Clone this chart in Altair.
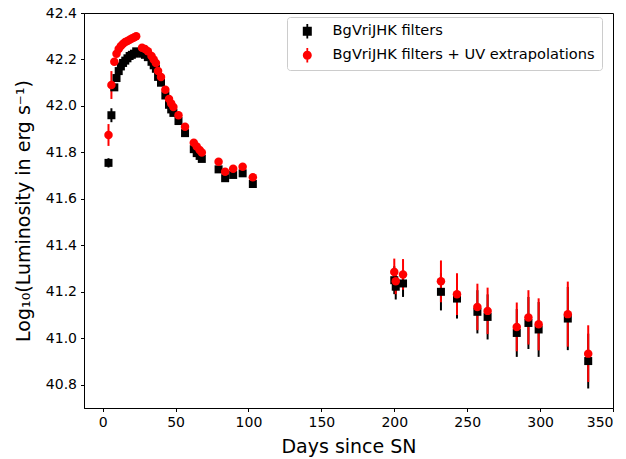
import altair as alt
import pandas as pd

# ---------------- data ----------------
days_early = [4, 6, 8, 9.5, 11, 12.5, 14, 15.5, 17, 18.5, 20, 21.5, 23,
              27, 29, 31, 33.5, 35, 36.5, 38, 40, 43, 45.5, 47, 48.5, 52,
              56.5, 62.5, 64.5, 66.5, 68, 79.5, 84, 89.5, 96, 103]
red_early = [41.875, 42.09, 42.19, 42.225, 42.245, 42.258, 42.268, 42.275,
             42.28, 42.285, 42.29, 42.295, 42.30, 42.25, 42.245, 42.235,
             42.215, 42.20, 42.185, 42.15, 42.125, 42.07, 42.03, 42.01,
             41.995, 41.96, 41.91, 41.842, 41.825, 41.81, 41.80, 41.76,
             41.717, 41.73, 41.738, 41.693]
black_early = [41.755, 41.96, 42.08, 42.12, 42.15, 42.17, 42.185, 42.195,
               42.205, 42.215, 42.22, 42.225, 42.235, 42.225, 42.22, 42.21,
               42.19, 42.175, 42.16, 42.125, 42.10, 42.045, 42.005, 41.985,
               41.97, 41.935, 41.883, 41.814, 41.797, 41.785, 41.772, 41.727,
               41.689, 41.703, 41.71, 41.664]
red_err_early = [0.047, 0.06] + [0.01] * 34
black_err_early = [0.02, 0.03] + [0.01] * 34

days_late = [200, 201, 206, 232, 243, 257, 264, 284, 292, 299, 319, 333]
red_late = [41.285, 41.245, 41.275, 41.245, 41.19, 41.135, 41.118, 41.049,
            41.09, 41.06, 41.104, 40.934]
red_err_late = [0.058, 0.055, 0.066, 0.09, 0.09, 0.10, 0.10, 0.105, 0.117,
                0.112, 0.14, 0.122]
black_late = [41.25, 41.222, 41.236, 41.2, 41.171, 41.114, 41.092, 41.023,
              41.066, 41.038, 41.085, 40.902]
black_err_late = [0.06, 0.055, 0.058, 0.08, 0.086, 0.093, 0.097, 0.103,
                  0.112, 0.118, 0.136, 0.118]

labels = ["BgVriJHK filters", "BgVriJHK filters + UV extrapolations"]

x_ticks = [0, 50, 100, 150, 200, 250, 300, 350]
y_ticks = [40.8, 41.0, 41.2, 41.4, 41.6, 41.8, 42.0, 42.2, 42.4]

# ---------------- tables ----------------
black = pd.DataFrame({"day": days_early + days_late,
                      "lum": black_early + black_late,
                      "err": black_err_early + black_err_late})
red = pd.DataFrame({"day": days_early + days_late,
                    "lum": red_early + red_late,
                    "err": red_err_early + red_err_late})
leg = pd.DataFrame({"series": labels})

FONT = "DejaVu Sans"
xscale = alt.Scale(domain=[-12.8, 350], nice=False, zero=False)
yscale = alt.Scale(domain=[40.70, 42.40], nice=False, zero=False)
xaxis = alt.Axis(title="Days since SN", values=x_ticks, format="d",
                 titlePadding=8)
yaxis = alt.Axis(title="Log₁₀(Luminosity in erg s⁻¹)", values=y_ticks,
                 format=".1f", titlePadding=12)


def bars(df, color):
    return alt.Chart(df).transform_calculate(
        lo="datum.lum - datum.err", hi="datum.lum + datum.err"
    ).mark_rule(color=color, strokeWidth=2).encode(
        x=alt.X("day:Q", scale=xscale, axis=xaxis),
        y=alt.Y("lo:Q", scale=yscale, axis=yaxis),
        y2="hi:Q",
    )


def pts(df, color, shape, size):
    return alt.Chart(df).mark_point(
        shape=shape, filled=True, size=size, color=color, opacity=1
    ).encode(
        x=alt.X("day:Q", scale=xscale, axis=xaxis),
        y=alt.Y("lum:Q", scale=yscale, axis=yaxis),
    )


sq_path = "M-1,-1H1V1H-1Z M-0.2,-1.6H0.2V1.6H-0.2Z"
ci_path = "M-1,0A1,1,0,1,1,1,0A1,1,0,1,1,-1,0Z M-0.2,-1.6H0.2V1.6H-0.2Z"

legend = alt.Legend(
    title=None, orient="none", legendX=203, legendY=4,
    symbolSize=81, symbolStrokeWidth=0, symbolOffset=6,
    labelFontSize=14.6, labelFont=FONT, labelColor="black", labelOffset=18,
    labelLimit=0,
    fillColor="white", strokeColor="#cccccc", cornerRadius=3,
    padding=7, rowPadding=8,
)

legend_layer = alt.Chart(leg).transform_filter("false").mark_point(
    filled=True, opacity=1
).encode(
    color=alt.Color("series:N", scale=alt.Scale(domain=labels, range=["black", "red"]),
                    legend=legend),
    shape=alt.Shape("series:N", scale=alt.Scale(domain=labels, range=[sq_path, ci_path]),
                    legend=legend),
)

chart = alt.layer(
    bars(black, "black"),
    bars(red, "red"),
    pts(black, "black", "square", 64),
    pts(red, "red", "circle", 72),
    legend_layer,
).properties(
    width=529, height=395,
    padding={"left": 84, "top": 13, "right": 13, "bottom": 51},
    autosize="none",
).configure_view(
    stroke="black", strokeWidth=1
).configure_axis(
    grid=False, domainColor="black", domainWidth=1, tickColor="black",
    tickSize=3.5, tickWidth=1, labelFont=FONT, labelFontSize=14,
    labelColor="black", labelPadding=4, titleFont=FONT, titleFontSize=19,
    titleFontWeight="normal", titleColor="black",
)

chart.save("out.html", embed_options={"renderer": "svg", "actions": False})
